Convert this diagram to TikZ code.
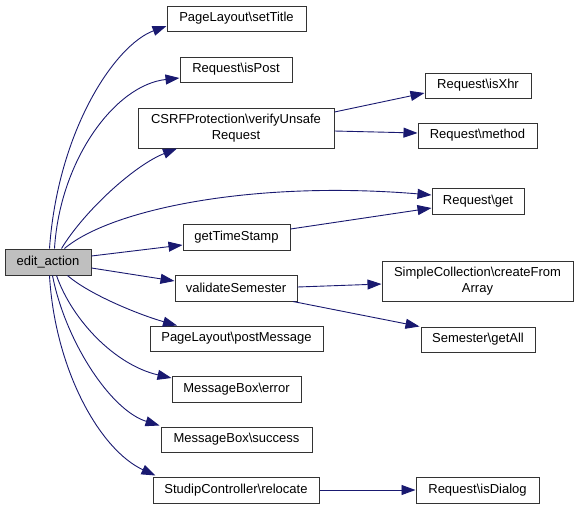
\documentclass[tikz,border=0pt]{standalone}
\usepackage{fontspec}
\setmainfont{Liberation Sans}
\usetikzlibrary{arrows.meta}
\definecolor{edgeblue}{HTML}{191970}
\definecolor{boxgray}{HTML}{BFBFBF}
\definecolor{boxline}{HTML}{333333}
\tikzset{
  fnbox/.style={draw=boxline, line width=1pt, fill=white, rectangle, inner sep=0pt,
    align=center, font=\fontsize{13}{16}\selectfont},
  callarrow/.style={draw=edgeblue, line width=0.9pt,
    -{Triangle[length=14pt,width=10pt,fill=edgeblue]}}
}
\begin{document}
\begin{tikzpicture}[x=1pt,y=-1pt]
\useasboundingbox (0,0) rectangle (579,509);
% nodes
\node[fnbox, fill=boxgray, minimum width=86pt, minimum height=26pt] (edit) at (48,262) {edit\_action};
\node[fnbox, minimum width=139pt, minimum height=25pt] (setTitle) at (236.5,18.5) {PageLayout\textbackslash setTitle};
\node[fnbox, minimum width=112pt, minimum height=25pt] (isPost) at (236,69.5) {Request\textbackslash isPost};
\node[fnbox, minimum width=196pt, minimum height=40pt] (csrf) at (236,128) {CSRFProtection\textbackslash verifyUnsafe\\Request};
\node[fnbox, minimum width=106pt, minimum height=25pt] (isXhr) at (478,85.5) {Request\textbackslash isXhr};
\node[fnbox, minimum width=119pt, minimum height=25pt] (method) at (477.5,135.5) {Request\textbackslash method};
\node[fnbox, minimum width=92pt, minimum height=26pt] (get) at (478,201) {Request\textbackslash get};
\node[fnbox, minimum width=107pt, minimum height=26pt] (ts) at (236.5,237) {getTimeStamp};
\node[fnbox, minimum width=191pt, minimum height=40pt] (cfa) at (477.5,281) {SimpleCollection\textbackslash createFrom\\Array};
\node[fnbox, minimum width=122pt, minimum height=26pt] (vs) at (236,288) {validateSemester};
\node[fnbox, minimum width=173pt, minimum height=25pt] (pm) at (236.5,338.5) {PageLayout\textbackslash postMessage};
\node[fnbox, minimum width=114pt, minimum height=25pt] (getAll) at (478,339.5) {Semester\textbackslash getAll};
\node[fnbox, minimum width=129pt, minimum height=26pt] (err) at (236.5,389) {MessageBox\textbackslash error};
\node[fnbox, minimum width=151pt, minimum height=25pt] (succ) at (236.5,439.5) {MessageBox\textbackslash success};
\node[fnbox, minimum width=166pt, minimum height=26pt] (reloc) at (236,490) {StudipController\textbackslash relocate};
\node[fnbox, minimum width=123pt, minimum height=26pt] (isDialog) at (477.5,490) {Request\textbackslash isDialog};
% edges from edit_action
\draw[callarrow] ([xshift=45pt]edit.north west) .. controls (58,130) and (115,45) .. ([yshift=-7.5pt]setTitle.west);
\draw[callarrow] ([xshift=50pt]edit.north west) .. controls (60,160) and (115,85) .. ([yshift=-8.5pt]isPost.west);
\draw[callarrow] ([xshift=57pt]edit.north west) .. controls (85,210) and (135,165) .. ([xshift=-59pt]csrf.south);
\draw[callarrow] ([xshift=60pt]edit.north west) .. controls (110,210) and (250,180) .. ([yshift=6pt]get.west);
\draw[callarrow] ([yshift=6pt]edit.east) -- ([yshift=-8pt]ts.west);
\draw[callarrow] ([yshift=-6pt]edit.east) -- ([yshift=7pt]vs.west);
\draw[callarrow] ([xshift=63pt]edit.south west) .. controls (90,295) and (140,315) .. ([xshift=-59.5pt]pm.north);
\draw[callarrow] ([xshift=52pt]edit.south west) .. controls (72,320) and (115,365) .. ([yshift=11pt]err.west);
\draw[callarrow] ([xshift=48pt]edit.south west) .. controls (65,340) and (110,410) .. ([xshift=-1pt,yshift=1pt]succ.north west);
\draw[callarrow] ([xshift=45pt]edit.south west) .. controls (55,370) and (100,450) .. ([xshift=3pt,yshift=1pt]reloc.north west);
% secondary edges
\draw[callarrow] ([yshift=16pt]csrf.east) -- ([yshift=-7.5pt]isXhr.west);
\draw[callarrow] ([yshift=-3pt]csrf.east) -- ([yshift=2.5pt]method.west);
\draw[callarrow] ([yshift=8pt]ts.east) -- ([yshift=-7pt]get.west);
\draw[callarrow] ([yshift=1pt]vs.east) -- ([yshift=-3pt]cfa.west);
\draw[callarrow] ([xshift=57pt]vs.south) -- ([xshift=-1pt]getAll.north west);
\draw[callarrow] (reloc.east) -- (isDialog.west);
\end{tikzpicture}
\end{document}
